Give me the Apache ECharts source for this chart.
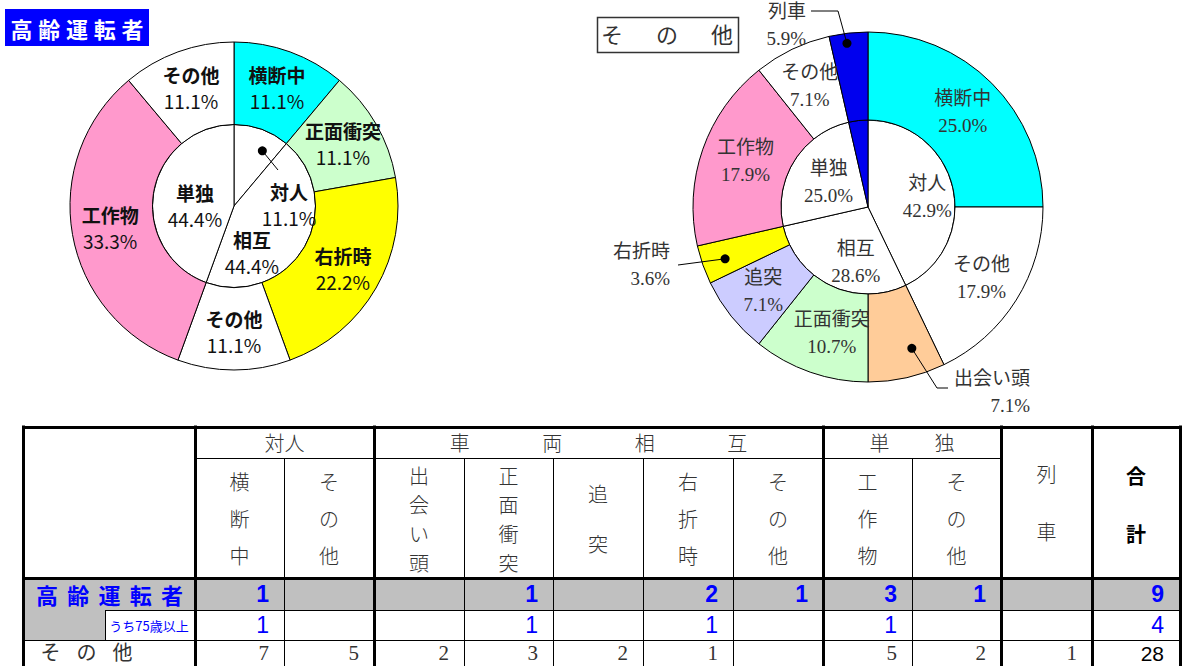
<!DOCTYPE html>
<html><head><meta charset="utf-8">
<script src="https://cdn.jsdelivr.net/npm/echarts@6/dist/echarts.min.js"></script>
<style>html,body{margin:0;padding:0;background:#fff}#c{width:1182px;height:666px}</style>
</head><body><div id="c"></div>
<script>
// ===== DATA =====
const chartTitles = ['高齢運転者', 'その他'];
const groupNames = ['対人', '車両相互', '単独'];
const groupSpans = [2, 5, 2];
const innerNames = ['対人', '相互', '単独', '列車'];
const subTypes = ['横断中', 'その他', '出会い頭', '正面衝突', '追突', '右折時', 'その他', '工作物', 'その他'];
const trainLabel = '列車';
const totalLabel = '合計';
const rowLabels = ['高齢運転者', 'うち75歳以上', 'その他'];
// counts per column: 9 sub types + 列車
const elderly   = [1, null, null, 1, null, 2, 1, 3, 1, null];
const elderly75 = [1, null, null, 1, null, 1, null, 1, null, null];
const others    = [7, 5, 2, 3, 2, 1, null, 5, 2, 1];
const rowTotals = [9, 4, 28];
// percentage texts as printed on the charts
const elderlyOuterPct = ['11.1%', null, null, '11.1%', null, '22.2%', '11.1%', '33.3%', '11.1%', null];
const elderlyInnerPct = ['11.1%', '44.4%', '44.4%', null];
const othersOuterPct  = ['25.0%', '17.9%', '7.1%', '10.7%', '7.1%', '3.6%', null, '17.9%', '7.1%', '5.9%'];
const othersInnerPct  = ['42.9%', '28.6%', '25.0%', null];
const groupOfColumn = [0, 0, 1, 1, 1, 1, 1, 2, 2, 3];

// ===== STYLE / LAYOUT =====
const outerColors = ['#00FFFF', '#FFFFFF', '#FFCC99', '#CCFFCC', '#CCCCFF', '#FFFF00', '#FFFFFF', '#FF99CC', '#FFFFFF', '#0000EE'];
const innerColors = ['#FFFFFF', '#FFFFFF', '#FFFFFF', '#0000EE'];
const SANS = "'Noto Sans CJK JP', sans-serif";
const SERIF = "'Liberation Serif', 'Noto Sans CJK JP', serif";
const NARROW = "'Liberation Sans Narrow', 'Liberation Sans', sans-serif";
const L = {center: [234, 206], r0: 81.5, r1: 164};
const R = {center: [868, 207], r0: 87, r1: 175};
const labelAdjust = {
  Li: {i0: {abs: [289, 204]}, i1: {d: [-20, 25]}, i2: {d: [4, 7]}},
  Lo: {},
  Ri: {i0: {d: [14, 0]}, i1: {d: [8, 13]}},
  Ro: {o2: {abs: [1030, 392], align: 'right'}, o5: {abs: [670, 265], align: 'right'},
       o9: {abs: [806, 25], align: 'right'}, o3: {d: [8, 0]}, o7: {d: [4, -2]}}
};
const leaders = [
  {chart: 'L', ring: 'Li', key: 'i0', frac: 0.68, r: 62, path: [[278, 170]]},
  {chart: 'R', ring: 'Ro', key: 'o2', frac: 0.33, r: 148, path: [[937, 388], [948, 388]]},
  {chart: 'R', ring: 'Ro', key: 'o5', frac: 0.45, r: 152, path: [[678, 265]]},
  {chart: 'R', ring: 'Ro', key: 'o9', frac: 0.43, r: 165, path: [[838, 11], [811, 11]]}
];
const colX = [23, 195, 284, 374, 464, 553, 643, 733, 823, 912, 1001, 1092, 1180];
const rowY = [427, 458, 578, 610, 640, 670];

// ===== BUILD PIE DATA =====
const outerNames = subTypes.concat([trainLabel]);
function buildOuter(vals, pct) {
  return vals.map((v, i) => ({key: 'o' + i, name: outerNames[i], value: v || 0, pct: pct[i],
    itemStyle: {color: outerColors[i]}})).filter(d => d.value > 0);
}
function buildInner(vals, pct) {
  const sums = [0, 0, 0, 0];
  vals.forEach((v, i) => { sums[groupOfColumn[i]] += v || 0; });
  return sums.map((s, g) => ({key: 'i' + g, name: innerNames[g], value: s, pct: pct[g],
    itemStyle: {color: innerColors[g]}})).filter(d => d.value > 0);
}
const data = {
  Li: buildInner(elderly, elderlyInnerPct),
  Lo: buildOuter(elderly, elderlyOuterPct),
  Ri: buildInner(others, othersInnerPct),
  Ro: buildOuter(others, othersOuterPct)
};
function fmt(p) { return p.data.pct ? '{n|' + p.name + '}\n{p|' + p.data.pct + '}' : ''; }
function layoutFn(id) {
  return function (p) {
    const d = data[id][p.dataIndex];
    const a = labelAdjust[id][d.key];
    if (!a) return {};
    if (a.abs) return {x: a.abs[0], y: a.abs[1], align: a.align || 'center', verticalAlign: 'middle'};
    return {dx: a.d[0], dy: a.d[1]};
  };
}
const leftRich = {
  n: {fontSize: 19, fontWeight: 'bold', fontFamily: SANS, color: '#111', lineHeight: 26},
  p: {fontSize: 19, fontFamily: SANS, color: '#111', lineHeight: 26}
};
const rightRich = {
  n: {fontSize: 19, fontFamily: SERIF, color: '#333', lineHeight: 27},
  p: {fontSize: 19, fontFamily: SERIF, color: '#333', lineHeight: 27}
};
function pie(id, geo, inner, rich) {
  return {
    type: 'pie', id: id, center: geo.center, radius: inner ? [0, geo.r0] : [geo.r0, geo.r1],
    startAngle: 90, clockwise: true, avoidLabelOverlap: false, silent: true,
    itemStyle: {borderColor: '#000', borderWidth: 1},
    label: {show: true, position: 'inside', formatter: fmt, rich: rich},
    labelLine: {show: false}, labelLayout: layoutFn(id),
    emphasis: {disabled: true}, data: data[id]
  };
}

// ===== GRAPHICS: leaders, titles, table =====
const g = [];
function sectorPoint(geo, id, key, frac, r) {
  const arr = data[id];
  const tot = arr.reduce((s, d) => s + d.value, 0);
  let acc = 0, ang = 0;
  for (const d of arr) {
    const a0 = acc / tot * 360, a1 = (acc + d.value) / tot * 360;
    if (d.key === key) { ang = a0 + frac * (a1 - a0); break; }
    acc += d.value;
  }
  const rad = ang * Math.PI / 180;
  return [geo.center[0] + r * Math.sin(rad), geo.center[1] - r * Math.cos(rad)];
}
leaders.forEach(ld => {
  const geo = ld.chart === 'L' ? L : R;
  const p = sectorPoint(geo, ld.ring, ld.key, ld.frac, ld.r);
  g.push({type: 'polyline', z: 100, shape: {points: [p].concat(ld.path)}, style: {stroke: '#000', lineWidth: 1, fill: null}});
  g.push({type: 'circle', z: 101, shape: {cx: p[0], cy: p[1], r: 4.5}, style: {fill: '#000'}});
});
function spaced(str, cw, st) {
  return {text: str.split('').map(c => '{s|' + c + '}').join(''),
    rich: {s: Object.assign({width: cw, align: 'center'}, st)}};
}
function txt(x, y, textObj, extra) {
  g.push({type: 'text', z: 50, style: Object.assign({x: x, y: y, align: 'center', verticalAlign: 'middle'}, textObj, extra || {})});
}
// chart titles
g.push({type: 'rect', z: 40, shape: {x: 5, y: 9, width: 144, height: 37}, style: {fill: '#0000FF'}});
txt(77, 28, spaced(chartTitles[0], 27.8, {fontSize: 22, fontWeight: 'bold', fontFamily: SANS, fill: '#fff'}));
g.push({type: 'rect', z: 40, shape: {x: 597.5, y: 17.5, width: 141, height: 35}, style: {fill: '#fff', stroke: '#333', lineWidth: 1.5}});
txt(667, 35, spaced(chartTitles[1], 55, {fontSize: 22, fontFamily: SERIF, fill: '#333'}));

// table fills
g.push({type: 'rect', z: 10, shape: {x: colX[0], y: rowY[2], width: colX[12] - colX[0], height: rowY[3] - rowY[2]}, style: {fill: '#C0C0C0'}});
g.push({type: 'rect', z: 10, shape: {x: colX[0], y: rowY[3], width: 105 - colX[0], height: rowY[4] - rowY[3]}, style: {fill: '#C0C0C0'}});
// table lines
function line(x1, y1, x2, y2, w) {
  const o = w % 2 === 1 ? 0.5 : 0;
  g.push({type: 'line', z: 20, shape: {x1: x1 + (x1 === x2 ? o : 0), y1: y1 + (y1 === y2 ? o : 0), x2: x2 + (x1 === x2 ? o : 0), y2: y2 + (y1 === y2 ? o : 0)}, style: {stroke: '#000', lineWidth: w}});
}
const thickCols = [0, 1, 3, 8, 10, 11, 12];
colX.forEach((x, i) => {
  if (thickCols.includes(i)) line(x, rowY[0] - 1.5, x, rowY[5], 3);
  else line(x, rowY[1], x, rowY[5], 1);
});
line(colX[0], rowY[0], colX[12], rowY[0], 3);
line(colX[1], rowY[1], colX[10], rowY[1], 1);
line(colX[0], rowY[2], colX[12], rowY[2], 3);
line(105, rowY[3], colX[12], rowY[3], 1);
line(colX[0], rowY[4], colX[12], rowY[4], 1);
line(105, rowY[3], 105, rowY[4], 1);

// header text
const hdrStyle = {fontSize: 20, fontFamily: SERIF, fill: '#333', fontWeight: 300};
const groupCharW = [null, 92.5, 65];
let c = 1;
groupNames.forEach((name, gi) => {
  const x0 = colX[c], x1 = colX[c + groupSpans[gi]];
  const cx = (x0 + x1) / 2, cy = (rowY[0] + rowY[1]) / 2 + 1;
  if (groupCharW[gi]) txt(cx, cy, spaced(name, groupCharW[gi], hdrStyle));
  else txt(cx, cy, Object.assign({text: name}, hdrStyle));
  c += groupSpans[gi];
});
const vSpacing = {2: 50, 3: 37, 4: 29};
subTypes.forEach((name, i) => {
  const cx = (colX[i + 1] + colX[i + 2]) / 2;
  txt(cx, 520, Object.assign({text: name.split('').join('\n'), lineHeight: vSpacing[name.length]}, hdrStyle));
});
txt((colX[10] + colX[11]) / 2, 504, Object.assign({text: trainLabel.split('').join('\n'), lineHeight: 58}, hdrStyle));
txt((colX[11] + colX[12]) / 2, 504, {text: totalLabel.split('').join('\n'), lineHeight: 58, fontSize: 20, fontFamily: SANS, fontWeight: 'bold', fill: '#000'});

// row labels
txt(109.5, 594, spaced(rowLabels[0], 31.25, {fontSize: 22, fontWeight: 'bold', fontFamily: SANS, fill: '#0000FF'}));
txt(149, 625, {text: rowLabels[1], fontSize: 13, fontFamily: SANS, fill: '#0000FF'});
txt(86.5, 653, spaced(rowLabels[2], 36, {fontSize: 20, fontFamily: SERIF, fill: '#333'}));

// row values
const rowsVals = [elderly, elderly75, others];
const rowCY = [594, 625, 653];
const valStyles = [
  {fontSize: 23, fontWeight: 'bold', fontFamily: NARROW, fill: '#0000FF'},
  {fontSize: 23, fontFamily: NARROW, fill: '#0000FF'},
  {fontSize: 21, fontFamily: SERIF, fill: '#333'}
];
const totalStyles = [valStyles[0], valStyles[1], {fontSize: 21, fontFamily: NARROW, fill: '#000'}];
rowsVals.forEach((vals, r) => {
  vals.forEach((v, i) => {
    if (v == null) return;
    txt(colX[i + 2] - 15, rowCY[r], Object.assign({text: String(v), align: 'right'}, valStyles[r]));
  });
  txt(colX[12] - 16, rowCY[r], Object.assign({text: String(rowTotals[r]), align: 'right'}, totalStyles[r]));
});

const chart = echarts.init(document.getElementById('c'), null, {renderer: 'svg', width: 1182, height: 666});
chart.setOption({
  backgroundColor: '#fff',
  animation: false,
  series: [pie('Li', L, true, leftRich), pie('Lo', L, false, leftRich), pie('Ri', R, true, rightRich), pie('Ro', R, false, rightRich)],
  graphic: g
});
</script></body></html>
